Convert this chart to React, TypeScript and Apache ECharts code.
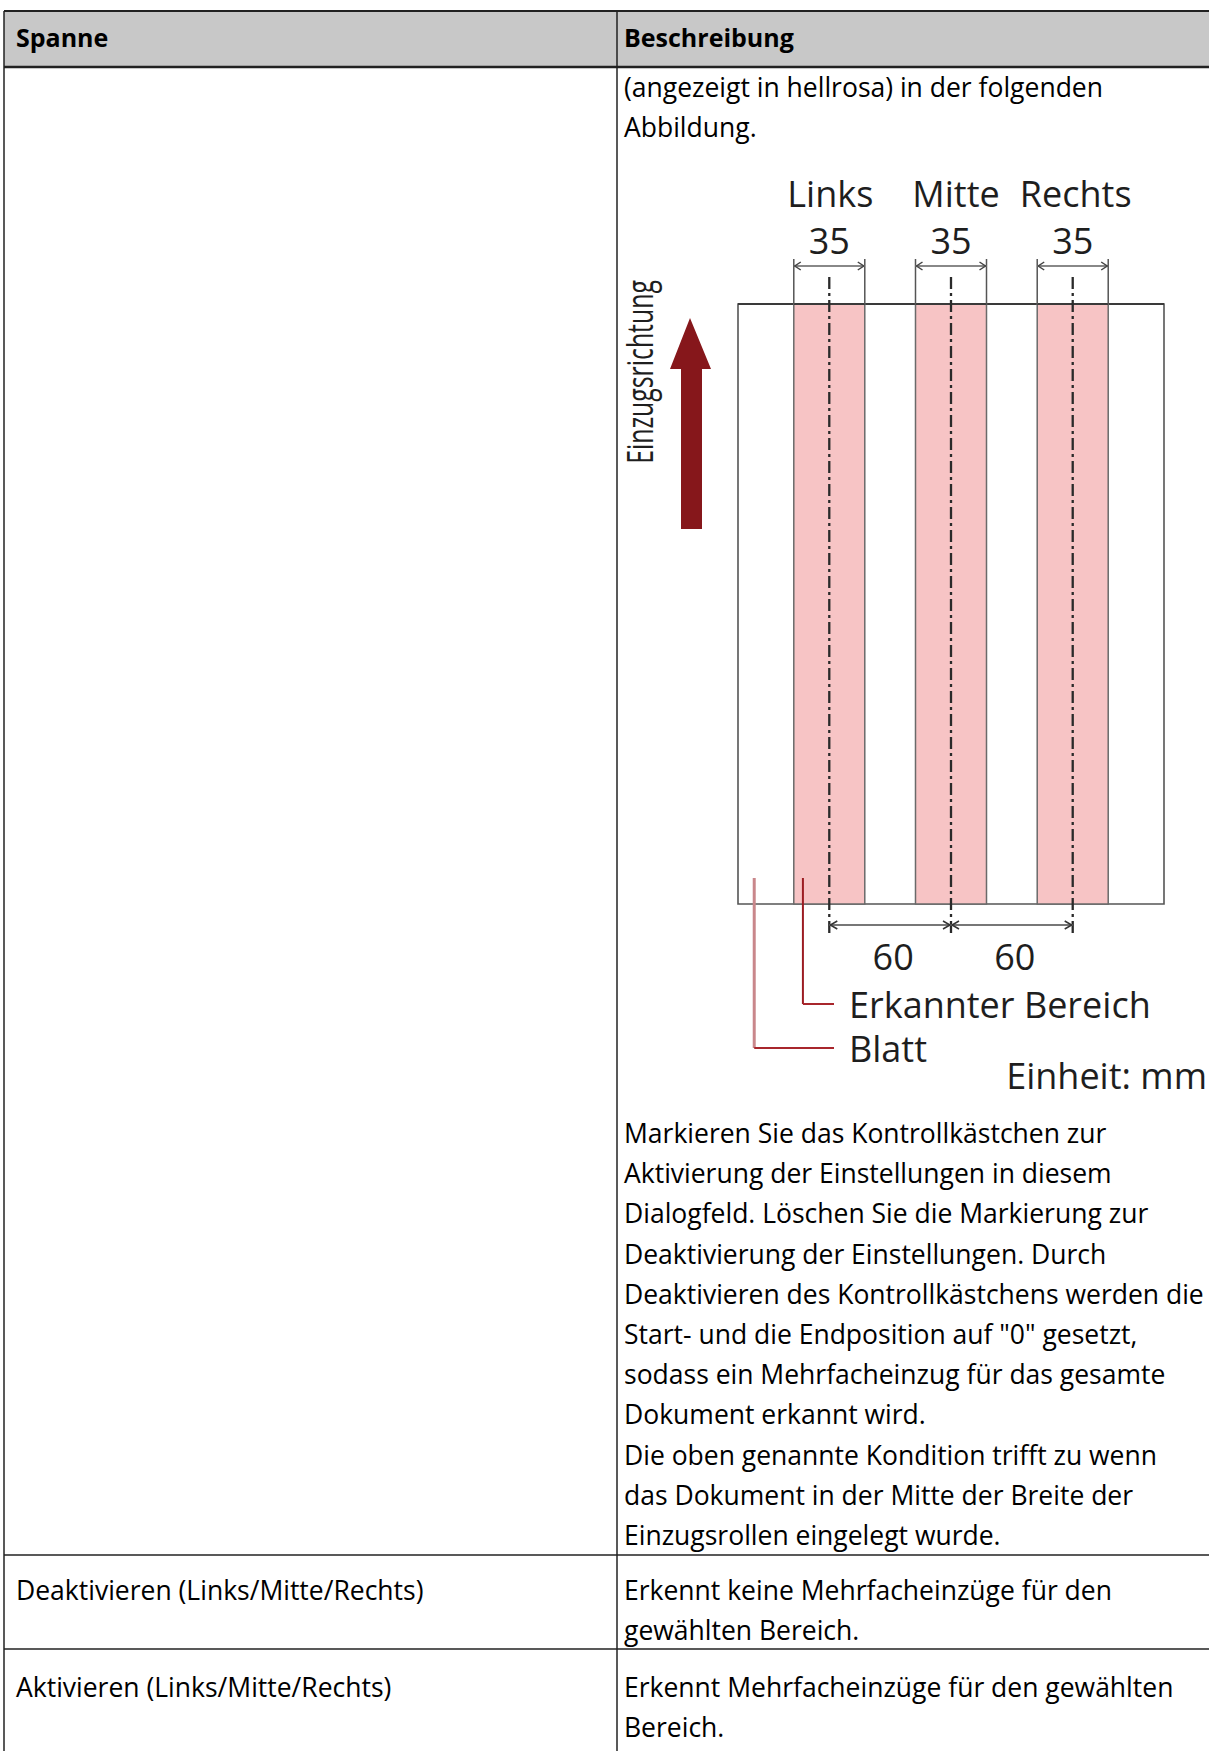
import React, { useEffect, useRef } from "react";
import * as echarts from "echarts";

const FONT = "'Open Sans', 'Noto Sans', sans-serif";

// ---- table texts ----
const headerLabels = ["Spanne", "Beschreibung"];
const introLines = ["(angezeigt in hellrosa) in der folgenden", "Abbildung."];
const paragraphLines = [
  "Markieren Sie das Kontrollkästchen zur",
  "Aktivierung der Einstellungen in diesem",
  "Dialogfeld. Löschen Sie die Markierung zur",
  "Deaktivierung der Einstellungen. Durch",
  "Deaktivieren des Kontrollkästchens werden die",
  "Start- und die Endposition auf \"0\" gesetzt,",
  "sodass ein Mehrfacheinzug für das gesamte",
  "Dokument erkannt wird.",
  "Die oben genannte Kondition trifft zu wenn",
  "das Dokument in der Mitte der Breite der",
  "Einzugsrollen eingelegt wurde.",
];
const rowLeftLabels = ["Deaktivieren (Links/Mitte/Rechts)", "Aktivieren (Links/Mitte/Rechts)"];
const rowRightLines = [
  ["Erkennt keine Mehrfacheinzüge für den", "gewählten Bereich."],
  ["Erkennt Mehrfacheinzüge für den gewählten", "Bereich."],
];

// ---- diagram data (mm) ----
const sheetEdgesMm = [-105, 105];
const zoneNames = ["Links", "Mitte", "Rechts"];
const zoneCentersMm = [-60, 0, 60];
const zoneWidthsMm = [35, 35, 35];
const spacingPairsMm = [
  [-60, 0],
  [0, 60],
];
const spacingLabels = ["60", "60"];
const leaderLabels = ["Erkannter Bereich", "Blatt"];
const leaderXmm = [-73, -97];
const unitLabel = "Einheit: mm";
const directionLabel = "Einzugsrichtung";

const W = 1209;
const H = 1751;
const COL_X = 617;
const LEFT_X = 4;
const TOP_Y = 11;
const HEAD_Y = 67;
const ROW_BORDERS = [1555, 1649];
const TEXT_SIZE = 26.5;

function txt(x: number, y: number, text: string, extra: any = {}) {
  return {
    type: "text",
    x,
    y,
    style: {
      text,
      fill: "#000",
      fontSize: TEXT_SIZE,
      fontFamily: FONT,
      align: "left",
      verticalAlign: "middle",
      ...extra,
    },
  };
}

function line(x1: number, y1: number, x2: number, y2: number, stroke = "#222", lineWidth = 1.5) {
  return { type: "line", shape: { x1, y1, x2, y2 }, style: { stroke, lineWidth } };
}

export default function App() {
  const ref = useRef<HTMLDivElement>(null);

  useEffect(() => {
    document.body.style.margin = "0";
    const chart = echarts.init(ref.current!, null, { renderer: "svg" });

    const graphics: any[] = [];
    // header
    graphics.push({
      type: "rect",
      shape: { x: LEFT_X, y: TOP_Y, width: W - LEFT_X, height: HEAD_Y - TOP_Y },
      style: { fill: "#c8c8c8" },
    });
    graphics.push(line(LEFT_X, TOP_Y, W, TOP_Y, "#222", 2));
    graphics.push(line(LEFT_X, HEAD_Y, W, HEAD_Y, "#222", 2.5));
    graphics.push(line(LEFT_X, TOP_Y, LEFT_X, H, "#222", 1.5));
    graphics.push(line(COL_X, TOP_Y, COL_X, H, "#222", 1.5));
    ROW_BORDERS.forEach((y) => graphics.push(line(LEFT_X, y, W, y, "#222", 1.5)));

    graphics.push(txt(16, 37, headerLabels[0], { fontWeight: "bold", fontSize: 25 }));
    graphics.push(txt(624, 37, headerLabels[1], { fontWeight: "bold", fontSize: 25 }));

    introLines.forEach((t, i) => graphics.push(txt(624, 87 + i * 40, t)));
    paragraphLines.forEach((t, i) => graphics.push(txt(624, 1133 + i * 40.2, t)));

    const rowTextY = [1590, 1687];
    rowLeftLabels.forEach((t, i) => graphics.push(txt(16, rowTextY[i], t)));
    rowRightLines.forEach((lines, i) =>
      lines.forEach((t, j) => graphics.push(txt(624, rowTextY[i] + j * 40, t)))
    );

    // feed direction arrow
    graphics.push({
      type: "polygon",
      shape: {
        points: [
          [690, 318],
          [711, 369],
          [702, 369],
          [702, 529],
          [681, 529],
          [681, 369],
          [670, 369],
        ],
      },
      style: { fill: "#86171b" },
    });
    graphics.push({
      type: "text",
      x: 639,
      y: 372,
      rotation: Math.PI / 2,
      scaleX: 0.69,
      style: {
        text: directionLabel,
        fill: "#1e1e1e",
        fontSize: 36,
        fontFamily: FONT,
        align: "center",
        verticalAlign: "middle",
      },
    });
    graphics.push({
      type: "text",
      x: 1207,
      y: 1075,
      style: {
        text: unitLabel,
        fill: "#1e1e1e",
        fontSize: 36,
        fontFamily: FONT,
        align: "right",
        verticalAlign: "middle",
      },
    });

    const diagFont = { fontSize: 36, fontFamily: FONT, fill: "#1e1e1e" };

    const option: any = {
      animation: false,
      grid: { left: 738, top: 304, width: 426, height: 600 },
      xAxis: { type: "value", min: -105, max: 105, show: false },
      yAxis: { type: "value", min: 0, max: 100, show: false },
      graphic: graphics,
      series: [
        {
          type: "custom",
          name: "Blatt",
          coordinateSystem: "cartesian2d",
          clip: false,
          silent: true,
          data: [sheetEdgesMm],
          renderItem: (params: any, api: any) => {
            const a = api.coord([api.value(0), 100]);
            const b = api.coord([api.value(1), 0]);
            return {
              type: "group",
              children: [
                {
                  type: "rect",
                  shape: { x: a[0], y: a[1], width: b[0] - a[0], height: b[1] - a[1] },
                  style: { fill: "#fff", stroke: "#555", lineWidth: 1.6 },
                },
                {
                  type: "line",
                  shape: { x1: a[0], y1: a[1], x2: b[0], y2: a[1] },
                  style: { stroke: "#3a3a3a", lineWidth: 2 },
                },
              ],
            };
          },
        },
        {
          type: "custom",
          name: "Zonen",
          coordinateSystem: "cartesian2d",
          clip: false,
          silent: true,
          data: zoneCentersMm.map((c, i) => [c, zoneWidthsMm[i]]),
          renderItem: (params: any, api: any) => {
            const i = params.dataIndex;
            const c = api.value(0);
            const w = api.value(1);
            const tl = api.coord([c - w / 2, 100]);
            const br = api.coord([c + w / 2, 0]);
            const cc = api.coord([c, 100]);
            const top = tl[1];
            const bottom = br[1];
            const dimY = top - 38;
            const x1 = tl[0];
            const x2 = br[0];
            return {
              type: "group",
              children: [
                {
                  type: "rect",
                  shape: { x: x1, y: top, width: x2 - x1, height: bottom - top },
                  style: { fill: "#f7c4c5", stroke: "#6a6a6a", lineWidth: 1.5 },
                },
                {
                  type: "line",
                  shape: { x1, y1: top, x2, y2: top },
                  style: { stroke: "#3a3a3a", lineWidth: 2 },
                },
                { type: "line", shape: { x1, y1: top, x2: x1, y2: dimY - 7 }, style: { stroke: "#555", lineWidth: 1.5 } },
                { type: "line", shape: { x1: x2, y1: top, x2, y2: dimY - 7 }, style: { stroke: "#555", lineWidth: 1.5 } },
                { type: "line", shape: { x1, y1: dimY, x2, y2: dimY }, style: { stroke: "#888", lineWidth: 1.8 } },
                {
                  type: "polyline",
                  shape: { points: [[x1 + 7, dimY - 4], [x1 + 1, dimY], [x1 + 7, dimY + 4]] },
                  style: { stroke: "#444", fill: "none", lineWidth: 1.5 },
                },
                {
                  type: "polyline",
                  shape: { points: [[x2 - 7, dimY - 4], [x2 - 1, dimY], [x2 - 7, dimY + 4]] },
                  style: { stroke: "#444", fill: "none", lineWidth: 1.5 },
                },
                {
                  type: "line",
                  shape: { x1: cc[0], y1: top - 27, x2: cc[0], y2: bottom + 30 },
                  style: { stroke: "#2a2a2a", lineWidth: 2.3, lineDash: [12, 4, 3, 4] },
                },
                {
                  type: "text",
                  x: cc[0],
                  y: top - 64,
                  style: { text: String(zoneWidthsMm[i]), align: "center", verticalAlign: "middle", ...diagFont },
                },
                {
                  type: "text",
                  x: cc[0] + [1, 5, 3][i],
                  y: top - 111,
                  style: { text: zoneNames[i], align: "center", verticalAlign: "middle", ...diagFont },
                },
              ],
            };
          },
        },
        {
          type: "custom",
          name: "Abstand",
          coordinateSystem: "cartesian2d",
          clip: false,
          silent: true,
          data: spacingPairsMm,
          renderItem: (params: any, api: any) => {
            const i = params.dataIndex;
            const a = api.coord([api.value(0), 0]);
            const b = api.coord([api.value(1), 0]);
            const y = a[1] + 21;
            return {
              type: "group",
              children: [
                { type: "line", shape: { x1: a[0], y1: y, x2: b[0], y2: y }, style: { stroke: "#777", lineWidth: 1.8 } },
                {
                  type: "polyline",
                  shape: { points: [[a[0] + 8, y - 4], [a[0] + 1, y], [a[0] + 8, y + 4]] },
                  style: { stroke: "#333", fill: "none", lineWidth: 1.5 },
                },
                {
                  type: "polyline",
                  shape: { points: [[b[0] - 8, y - 4], [b[0] - 1, y], [b[0] - 8, y + 4]] },
                  style: { stroke: "#333", fill: "none", lineWidth: 1.5 },
                },
                {
                  type: "text",
                  x: (a[0] + b[0]) / 2 + 3,
                  y: y + 31,
                  style: { text: spacingLabels[i], align: "center", verticalAlign: "middle", ...diagFont },
                },
              ],
            };
          },
        },
        {
          type: "custom",
          name: "Hinweise",
          coordinateSystem: "cartesian2d",
          clip: false,
          silent: true,
          data: leaderXmm.map((x) => [x, 0]),
          renderItem: (params: any, api: any) => {
            const i = params.dataIndex;
            const p = api.coord([api.value(0), 0]);
            const left = api.coord([sheetEdgesMm[0], 0])[0];
            const textY = p[1] + [100, 144][i];
            const textX = left + 111;
            return {
              type: "group",
              children: [
                {
                  type: "line",
                  shape: { x1: p[0], y1: p[1] - 26, x2: p[0], y2: textY },
                  style: { stroke: i === 0 ? "#9c1c22" : "#c9878b", lineWidth: i === 0 ? 2 : 3 },
                },
                {
                  type: "line",
                  shape: { x1: p[0], y1: textY, x2: textX - 15, y2: textY },
                  style: { stroke: "#a8262c", lineWidth: 2 },
                },
                {
                  type: "text",
                  x: textX,
                  y: textY,
                  style: { text: leaderLabels[i], align: "left", verticalAlign: "middle", ...diagFont },
                },
              ],
            };
          },
        },
      ],
    };

    chart.setOption(option);
    return () => chart.dispose();
  }, []);

  return <div ref={ref} style={{ width: W, height: H, background: "#fff" }} />;
}
